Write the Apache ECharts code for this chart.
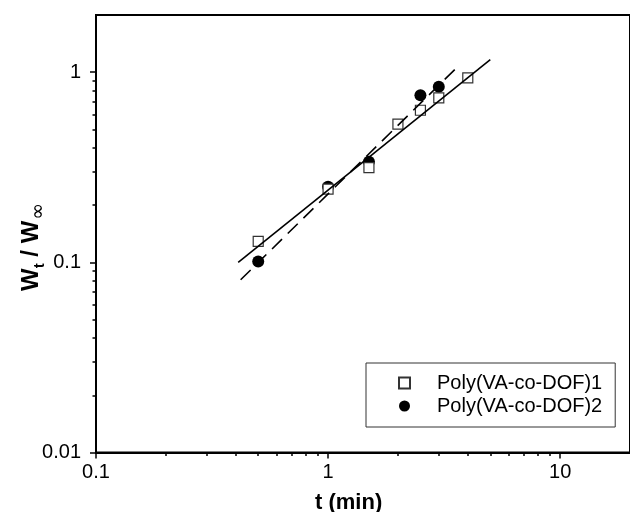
<!DOCTYPE html>
<html>
<head>
<meta charset="utf-8">
<script src="https://cdn.jsdelivr.net/npm/echarts@6/dist/echarts.min.js"></script>
<style>html,body{margin:0;padding:0;background:#fff;}#c{width:630px;height:512px;}</style>
</head>
<body>
<div id="c"></div>
<script>
// ---- data ----
const series1Name = 'Poly(VA-co-DOF)1';
const series2Name = 'Poly(VA-co-DOF)2';
const poly1T = [0.5, 1, 1.5, 2, 2.5, 3, 4];
const poly1W = [0.129, 0.243, 0.315, 0.533, 0.631, 0.733, 0.933];
const poly2T = [0.5, 1, 1.5, 2.5, 3];
const poly2W = [0.101, 0.25, 0.338, 0.757, 0.838];
const fitSolidT = [0.41, 5.0];
const fitSolidW = [0.1, 1.166];
const fitDashT = [0.42, 3.61];
const fitDashW = [0.081, 1.066];
const xTickValues = [0.1, 1, 10];
const xTickLabels = ['0.1', '1', '10'];
const xMinorTicks = [0.2, 0.3, 0.4, 0.5, 0.6, 0.7, 0.8, 0.9, 2, 3, 4, 5, 6, 7, 8, 9];
const yTickValues = [0.01, 0.1, 1];
const yTickLabels = ['0.01', '0.1', '1'];
const yMinorTicks = [0.02, 0.03, 0.04, 0.05, 0.06, 0.07, 0.08, 0.09, 0.2, 0.3, 0.4, 0.5, 0.6, 0.7, 0.8, 0.9];
const xMin = 0.1, xMax = 20, yMin = 0.01, yMax = 2;

const FONT = 'Liberation Sans, Arial, sans-serif';
const pairs = (a, b) => a.map((v, i) => [v, b[i]]);
const labelFor = (vals, labels) => v => {
  const i = vals.findIndex(t => Math.abs(Math.log10(t) - Math.log10(v)) < 1e-6);
  return i >= 0 ? labels[i] : '';
};

const chart = echarts.init(document.getElementById('c'), null, {renderer: 'canvas'});
const axisLineStyle = {color: '#000', width: 2};
chart.setOption({
  animation: false,
  backgroundColor: '#fff',
  grid: {left: 96, right: -3, top: 15, bottom: 59.5, show: true, borderColor: '#000', borderWidth: 2, backgroundColor: 'transparent'},
  xAxis: [
    {type: 'log', logBase: 10, min: xMin, max: xMax, position: 'bottom',
     axisLine: {show: true, lineStyle: axisLineStyle},
     axisTick: {show: true, customValues: xTickValues, length: 6, lineStyle: {color: '#000', width: 1.5}},
     axisLabel: {show: true, customValues: xTickValues, formatter: labelFor(xTickValues, xTickLabels),
       fontSize: 20, fontFamily: FONT, color: '#000', margin: 10},
     splitLine: {show: false}, minorTick: {show: false}},
    {type: 'log', logBase: 10, min: xMin, max: xMax, position: 'bottom',
     axisLine: {show: false},
     axisTick: {show: true, customValues: xMinorTicks, length: 3.5, lineStyle: {color: '#000', width: 1.5}},
     axisLabel: {show: false}, splitLine: {show: false}}
  ],
  yAxis: [
    {type: 'log', logBase: 10, min: yMin, max: yMax, position: 'left',
     axisLine: {show: true, lineStyle: axisLineStyle},
     axisTick: {show: true, customValues: yTickValues, length: 6, lineStyle: {color: '#000', width: 1.5}},
     axisLabel: {show: true, customValues: yTickValues, formatter: labelFor(yTickValues, yTickLabels),
       fontSize: 20, fontFamily: FONT, color: '#000', margin: 15},
     splitLine: {show: false}},
    {type: 'log', logBase: 10, min: yMin, max: yMax, position: 'left',
     axisLine: {show: false},
     axisTick: {show: true, customValues: yMinorTicks, length: 3.5, lineStyle: {color: '#000', width: 1.5}},
     axisLabel: {show: false}, splitLine: {show: false}}
  ],
  legend: {
    data: [series1Name, series2Name],
    orient: 'vertical', left: 366, top: 363,
    borderColor: '#333', borderWidth: 1, padding: [10, 13, 11, 32],
    itemGap: 3, itemWidth: 11, itemHeight: 11,
    textStyle: {fontSize: 20, fontFamily: FONT, color: '#000', padding: [0, 0, 0, 22], lineHeight: 20}
  },
  graphic: [
    {type: 'text', left: 315, top: 492, z: 10,
     style: {text: 't (min)', font: 'bold 22px ' + FONT, fill: '#000'}},
    {type: 'text', x: 31, y: 247, rotation: Math.PI / 2, z: 10,
     style: {text: '{w|W}{s|t}{w| / W}{i|∞}', align: 'center', verticalAlign: 'middle',
       rich: {
         w: {font: 'bold 24px ' + FONT, fill: '#000', lineHeight: 30, verticalAlign: 'middle'},
         s: {font: 'bold 15px ' + FONT, fill: '#000', lineHeight: 15, padding: [17, 0, 0, 0]},
         i: {font: '20px DejaVu Sans, ' + FONT, fill: '#000', lineHeight: 18, padding: [15, 0, 0, 1]}
       }}}
  ],
  series: [
    {name: series2Name, type: 'scatter', xAxisIndex: 0, yAxisIndex: 0, data: pairs(poly2T, poly2W),
     symbol: 'circle', symbolSize: 12, itemStyle: {color: '#000', opacity: 1}, z: 2},
    {name: series1Name, type: 'scatter', xAxisIndex: 0, yAxisIndex: 0, data: pairs(poly1T, poly1W),
     symbol: 'rect', symbolSize: 10, itemStyle: {color: '#fff', borderColor: '#333', borderWidth: 1.2, opacity: 1}, z: 3},
    {name: 'fit1', type: 'line', xAxisIndex: 0, yAxisIndex: 0, data: pairs(fitSolidT, fitSolidW),
     showSymbol: false, symbol: 'none', lineStyle: {color: '#000', width: 1.6}, z: 4},
    {name: 'fit2', type: 'line', xAxisIndex: 0, yAxisIndex: 0, data: pairs(fitDashT, fitDashW),
     showSymbol: false, symbol: 'none', lineStyle: {color: '#000', width: 1.6, type: [14, 8]}, z: 4}
  ]
});
</script>
</body>
</html>
